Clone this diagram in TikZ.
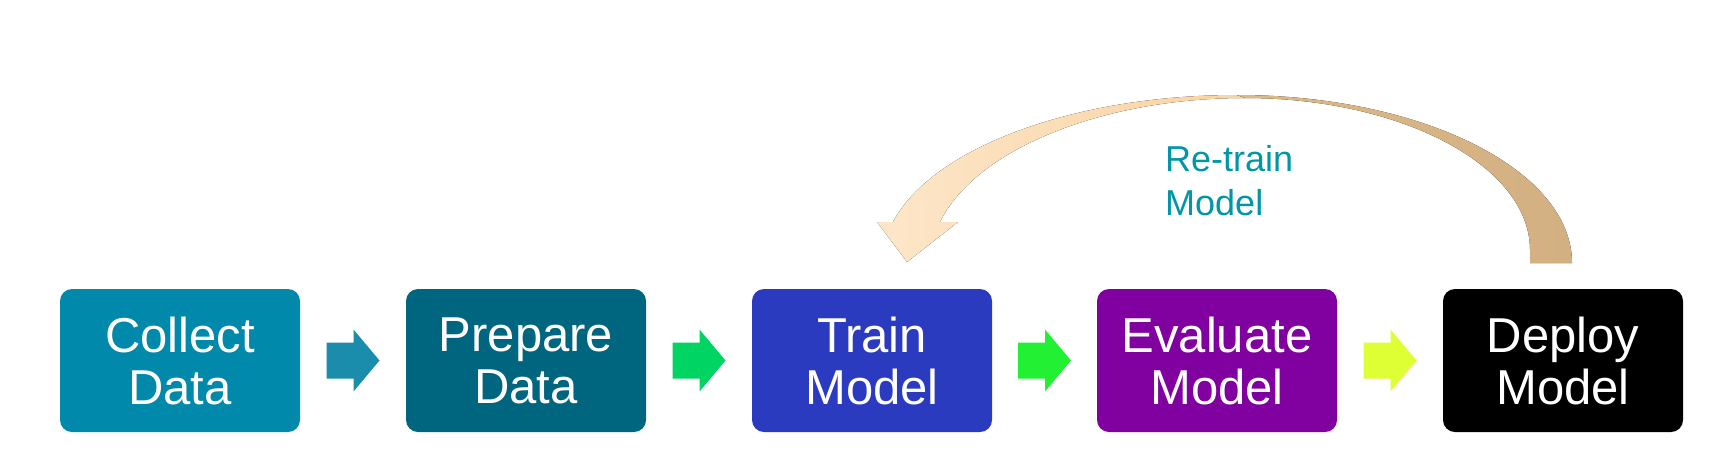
\documentclass[tikz,border=0pt]{standalone}
\usepackage{fontspec}
\setmainfont{Liberation Sans}
\usetikzlibrary{calc}
\definecolor{cCollect}{HTML}{0089AA}
\definecolor{cPrepare}{HTML}{006680}
\definecolor{cTrain}{HTML}{2B3BC0}
\definecolor{cEval}{HTML}{8000A0}
\definecolor{cDeploy}{HTML}{000000}
\definecolor{aOne}{HTML}{1A8DAD}
\definecolor{aTwo}{HTML}{00D462}
\definecolor{aThree}{HTML}{22F032}
\definecolor{aFour}{HTML}{DDFF33}
\definecolor{cLabel}{HTML}{0096A8}
\definecolor{peachLight}{HTML}{FDE6C9}
\definecolor{peachMid}{HTML}{F9D3A2}
\definecolor{tanA}{HTML}{DDB985}
\definecolor{tanB}{HTML}{D2B082}
\newcommand\flowarrow[3]{%
  \fill[#3] ($(#1.east)!0.5!(#2.west)+(-26.5,-18)$) -- ++(27,0) -- ++(0,-13)
    -- ++(26,31) -- ++(-26,31) -- ++(0,-13) -- ++(-27,0) -- cycle;}
\begin{document}
\begin{tikzpicture}[x=1pt,y=-1pt,
  stepbox/.style={rounded corners=12pt, minimum width=240pt, minimum height=143pt,
    inner sep=0pt, text=white, align=center, font=\fontsize{49}{52}\selectfont}]
\useasboundingbox[fill=white] (0,0) rectangle (1720,459);
% boxes
\node[stepbox, fill=cCollect] (collect)  at (180,360.5)  {Collect\\Data};
\node[stepbox, fill=cPrepare] (prepare)  at (526,360.5)  {Prepare\\Data};
\node[stepbox, fill=cTrain]   (train)    at (872,360.5)  {Train\\Model};
\node[stepbox, fill=cEval]    (evaluate) at (1217,360.5) {Evaluate\\Model};
\node[stepbox, fill=cDeploy]  (deploy)   at (1563,360.5) {Deploy\\Model};
% block arrows
\flowarrow{collect}{prepare}{aOne}
\flowarrow{prepare}{train}{aTwo}
\flowarrow{train}{evaluate}{aThree}
\flowarrow{evaluate}{deploy}{aFour}
% curved re-train arrow
\coordinate (otop) at (1237,95);
\coordinate (itop) at (1245,98);
\coordinate (rend) at (1572,263);
\coordinate (rin)  at (1530,263);
\coordinate (tip)  at (907,262);
% left (light) half with head
\fill[left color=peachLight, right color=peachMid]
  (otop) .. controls (1074,95) and (932,148) .. (893,222)
  -- (877,222) -- (tip) -- (958,222) -- (940,222)
  .. controls (975,150) and (1101,98) .. (itop) -- cycle;
% right (tan) half
\fill[left color=tanA, right color=tanB]
  (otop) .. controls (1422,95) and (1572,170) .. (rend)
  -- (rin) -- (1530,250) .. controls (1530,166) and (1402,98) .. (itop) -- cycle;
% label
\node[anchor=north west, inner sep=0pt, align=left, text=cLabel,
  font=\fontsize{36}{44}\selectfont] (retrain) at (1165,145) {Re-train\\Model};
\end{tikzpicture}
\end{document}
